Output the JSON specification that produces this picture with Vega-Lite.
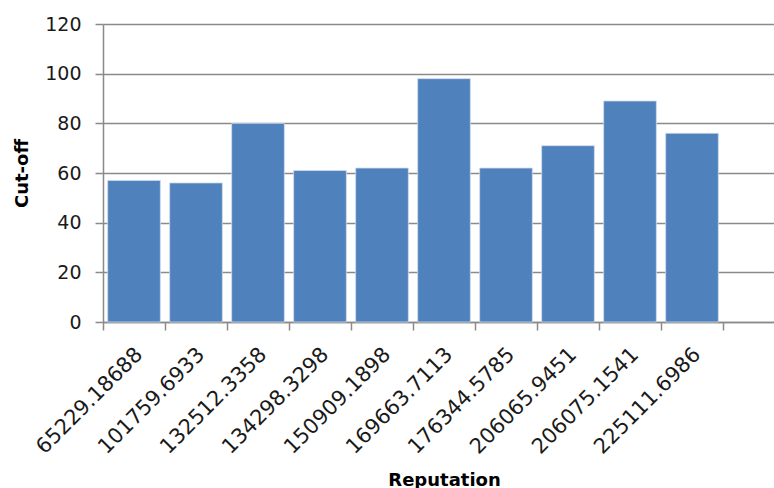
{
  "$schema": "https://vega.github.io/schema/vega-lite/v6.json",
  "autosize": "none",
  "width": 671,
  "height": 298,
  "padding": {"left": 103, "top": 24, "right": 0, "bottom": 166},
  "background": "white",
  "data": {
    "values": [
      {"Reputation": "65229.18688", "Cutoff": 57},
      {"Reputation": "101759.6933", "Cutoff": 56},
      {"Reputation": "132512.3358", "Cutoff": 80},
      {"Reputation": "134298.3298", "Cutoff": 61},
      {"Reputation": "150909.1898", "Cutoff": 62},
      {"Reputation": "169663.7113", "Cutoff": 98},
      {"Reputation": "176344.5785", "Cutoff": 62},
      {"Reputation": "206065.9451", "Cutoff": 71},
      {"Reputation": "206075.1541", "Cutoff": 89},
      {"Reputation": "225111.6986", "Cutoff": 76}
    ]
  },
  "config": {
    "view": {"stroke": null},
    "axis": {
      "labelFont": "DejaVu Sans",
      "titleFont": "DejaVu Sans",
      "labelColor": "#1a1a1a",
      "titleColor": "#000000",
      "domainColor": "#8a8a8a",
      "tickColor": "#8a8a8a",
      "gridColor": "#8a8a8a",
      "domainWidth": 1.5,
      "tickWidth": 1.5,
      "gridWidth": 1.5
    }
  },
  "mark": {"type": "bar", "color": "#4F81BD", "stroke": "#D0DCEE", "strokeWidth": 0.8},
  "encoding": {
    "x": {
      "field": "Reputation",
      "type": "nominal",
      "sort": null,
      "scale": {
        "domain": ["65229.18688", "101759.6933", "132512.3358", "134298.3298", "150909.1898", "169663.7113", "176344.5785", "206065.9451", "206075.1541", "225111.6986", " "],
        "range": [0, 682],
        "paddingInner": 0.15,
        "paddingOuter": 0.075
      },
      "axis": {
        "title": "Reputation",
        "titleFontSize": 18,
        "titleFontWeight": "bold",
        "titleX": 341,
        "titleY": 163,
        "titleBaseline": "alphabetic",
        "labelAngle": -45,
        "labelAlign": "right",
        "labelBaseline": "middle",
        "labelFontSize": 21,
        "labelPadding": 21,
        "labelOffset": 36,
        "tickSize": 8,
        "tickOffset": -31,
        "labelOverlap": false
      }
    },
    "y": {
      "field": "Cutoff",
      "type": "quantitative",
      "scale": {"domain": [0, 120], "nice": false},
      "axis": {
        "title": "Cut-off",
        "titleFontSize": 18,
        "titleFontWeight": "bold",
        "titleX": -81,
        "titleY": 149,
        "titleAlign": "center",
        "titleBaseline": "middle",
        "values": [0, 20, 40, 60, 80, 100, 120],
        "labelFontSize": 19,
        "labelPadding": 14,
        "tickSize": 8,
        "grid": true
      }
    }
  }
}
